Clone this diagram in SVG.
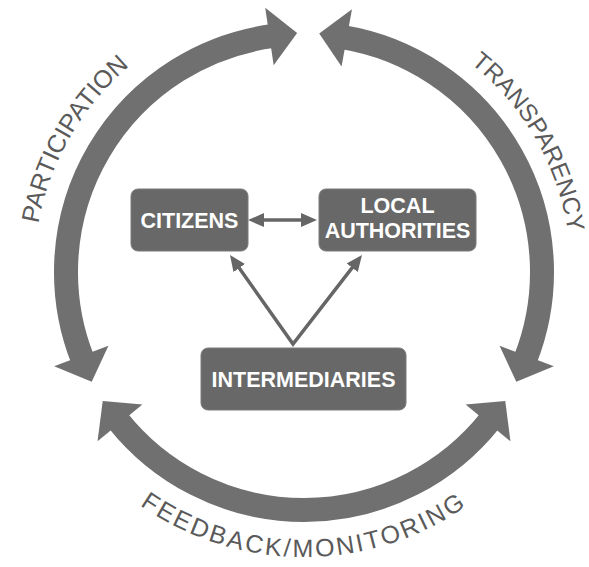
<svg xmlns="http://www.w3.org/2000/svg" xmlns:xlink="http://www.w3.org/1999/xlink" width="589" height="567" viewBox="0 0 589 567">
  <style>
    .ring { fill: none; stroke: #707070; stroke-width: 24; stroke-linecap: butt; }
    .head { fill: #707070; }
    .box { fill: #686868; stroke: #7a7a7a; stroke-width: 1; }
    .boxtxt { font-family: "Liberation Sans", Arial, sans-serif; font-weight: bold; font-size: 21.5px; fill: #ffffff; text-anchor: middle; }
    .ringtxt { font-family: "Liberation Sans", Arial, sans-serif; font-size: 25px; fill: #5a5a5a; }
    .link { fill: none; stroke: #666666; stroke-width: 3.5; stroke-linejoin: miter; }
  </style>
  <defs>
    <!-- curved-arrow heads drawn at angle 0 on the ring (centre 304,272, r 238); rotated into place -->
    <path id="hcw" class="head" d="M513,272 L571,272 L541.4,299.9 Z"/>
    <path id="hccw" class="head" d="M513,272 L571,272 L541.4,244.1 Z"/>
    <marker id="tip" viewBox="0 0 16 14" markerWidth="16" markerHeight="14" refX="8" refY="7" markerUnits="userSpaceOnUse" orient="auto-start-reverse">
      <path d="M0,0 L16,7 L0,14 Z" fill="#666666"/>
    </marker>
    <path id="pParticipation" d="M70.17,407 A270,270 0 0 1 304,2"/>
    <path id="pTransparency" d="M304,5 A267,267 0 0 1 535.23,405.5"/>
    <path id="pFeedback" d="M57.18,414.5 A285,285 0 0 0 550.82,414.5"/>
  </defs>

  <rect width="589" height="567" fill="#ffffff"/>

  <!-- outer cycle: three double-headed arcs -->
  <g id="cycle">
    <g id="arc-participation">
      <path class="ring" d="M82.79,359.80 A238,238 0 0 1 273.55,35.96"/>
      <use href="#hccw" transform="rotate(159.35 304 272)"/>
      <use href="#hcw" transform="rotate(261.65 304 272)"/>
    </g>
    <g id="arc-transparency">
      <path class="ring" d="M342.67,37.16 A238,238 0 0 1 525.21,359.80"/>
      <use href="#hccw" transform="rotate(280.35 304 272)"/>
      <use href="#hcw" transform="rotate(20.65 304 272)"/>
    </g>
    <g id="arc-feedback">
      <path class="ring" d="M490.60,419.72 A238,238 0 0 1 117.40,419.72"/>
      <use href="#hccw" transform="rotate(39.35 304 272)"/>
      <use href="#hcw" transform="rotate(140.65 304 272)"/>
    </g>
  </g>

  <!-- cycle labels -->
  <g id="cycle-labels" class="ringtxt">
    <text><textPath href="#pParticipation" startOffset="50%" text-anchor="middle">PARTICIPATION</textPath></text>
    <text font-size="24.5"><textPath href="#pTransparency" startOffset="50%" text-anchor="middle">TRANSPARENCY</textPath></text>
    <text letter-spacing="2.4"><textPath href="#pFeedback" startOffset="50%" text-anchor="middle">FEEDBACK/MONITORING</textPath></text>
  </g>

  <!-- connectors between actors -->
  <g id="connectors">
    <line class="link" x1="256" y1="220" x2="309" y2="220" marker-start="url(#tip)" marker-end="url(#tip)"/>
    <path class="link" d="M234.6,261.6 L293,344 L357.1,261.4" marker-start="url(#tip)" marker-end="url(#tip)"/>
  </g>

  <g id="citizens">
    <rect class="box" x="131" y="189" width="117" height="62" rx="7"/>
    <text class="boxtxt" x="189.5" y="228">CITIZENS</text>
  </g>

  <g id="local-authorities">
    <rect class="box" x="319" y="189" width="157" height="62" rx="7"/>
    <text class="boxtxt" x="397.5" y="213" font-size="20">LOCAL</text>
    <text class="boxtxt" x="397.5" y="237.5" font-size="20">AUTHORITIES</text>
  </g>

  <g id="intermediaries">
    <rect class="box" x="201" y="348" width="205" height="62" rx="7"/>
    <text class="boxtxt" x="303.5" y="387">INTERMEDIARIES</text>
  </g>
</svg>
